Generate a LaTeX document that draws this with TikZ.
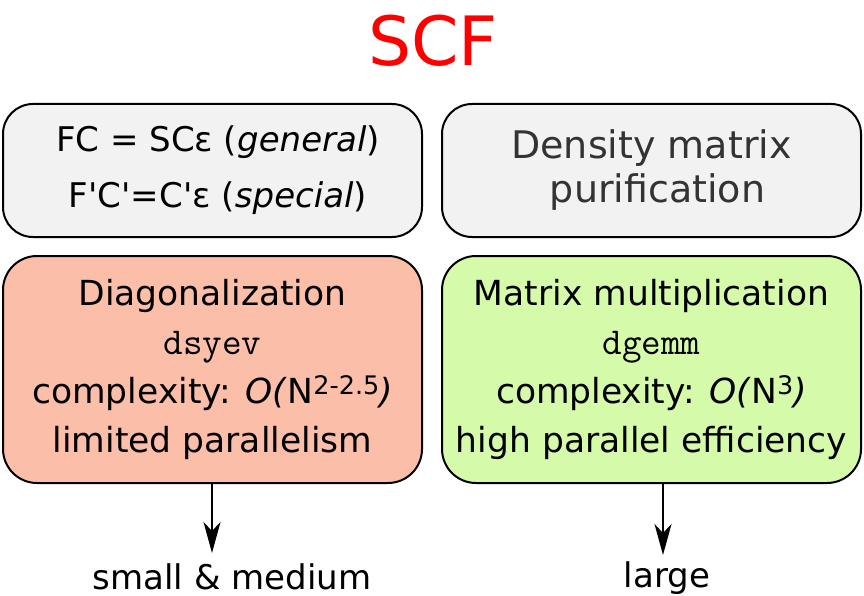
\documentclass[tikz,border=0pt]{standalone}
\usepackage{fontspec}
\setmainfont{DejaVu Sans}
\usepackage{tikz}
\usetikzlibrary{arrows.meta,positioning}
\definecolor{scfink}{HTML}{000000}
\definecolor{scftitle}{HTML}{FF0000}
\definecolor{scftext}{HTML}{333333}
\definecolor{scfmethodbg}{HTML}{F2F2F2}
\definecolor{scfdiagbg}{HTML}{FBBEA9}
\definecolor{scfmultbg}{HTML}{D5FAAA}
% raised exponent, a bit larger than \textsuperscript
\newcommand{\scfexp}[1]{\raisebox{9pt}{\fontsize{25.5}{25.5}\selectfont #1}}
\newcommand{\scfcode}[1]{{\ttfamily\fontsize{38}{49}\selectfont #1}}
\tikzset{
  box/.style    = {rectangle, rounded corners=30pt, draw=scfink, line width=2pt,
                   align=center, minimum width=419pt, inner sep=0pt, outer sep=0pt},
  method/.style = {box, fill=scfmethodbg, minimum height=133pt},
  kernel/.style = {box, minimum height=227pt, rounded corners=34pt,
                   font=\fontsize{34.5}{49}\selectfont},
  flow/.style   = {-{Stealth[length=31pt,width=17pt,inset=9pt]}, line width=1.8pt, draw=scfink},
  lbl/.style    = {anchor=base, inner sep=0pt, font=\fontsize{34}{40}\selectfont},
}

\begin{document}
\begin{tikzpicture}[x=1pt, y=-1pt]
\useasboundingbox (0,0) rectangle (864,596);

\node[anchor=base, inner sep=0pt, text=scftitle, font=\fontsize{68}{80}\selectfont] (scf) at (433,66) {SCF};

\node[method, font=\fontsize{34}{56}\selectfont] (eigen) at (212.5,170.5)
  {\ FC = SCε (\textit{general})\\\ F\textquotesingle C\textquotesingle=C\textquotesingle ε (\textit{special})};
\node[method, right=20pt of eigen, text=scftext, font=\fontsize{38}{44}\selectfont] (purif)
  {Density matrix\\\ purification};

\node[kernel, fill=scfdiagbg, below=19pt of eigen] (diag)
  {Diagonalization\\\scfcode{dsyev}\\complexity: \textit{O(}N\scfexp{2-2.5}\textit{)}\\limited parallelism};
\node[kernel, fill=scfmultbg, below=19pt of purif] (mult)
  {Matrix multiplication\\\scfcode{dgemm}\\complexity: \textit{O(}N\scfexp{3}\textit{)}\\high parallel efficiency};

\node[lbl] (small) at (232,589) {small \& medium};
\node[lbl] (large) at (667,587) {large};
\coordinate (smalltip) at (212,553);
\coordinate (largetip) at (663,555);

\draw[flow] (diag.south -| smalltip) -- (smalltip);
\draw[flow] (mult.south -| largetip) -- (largetip);

\end{tikzpicture}
\end{document}
